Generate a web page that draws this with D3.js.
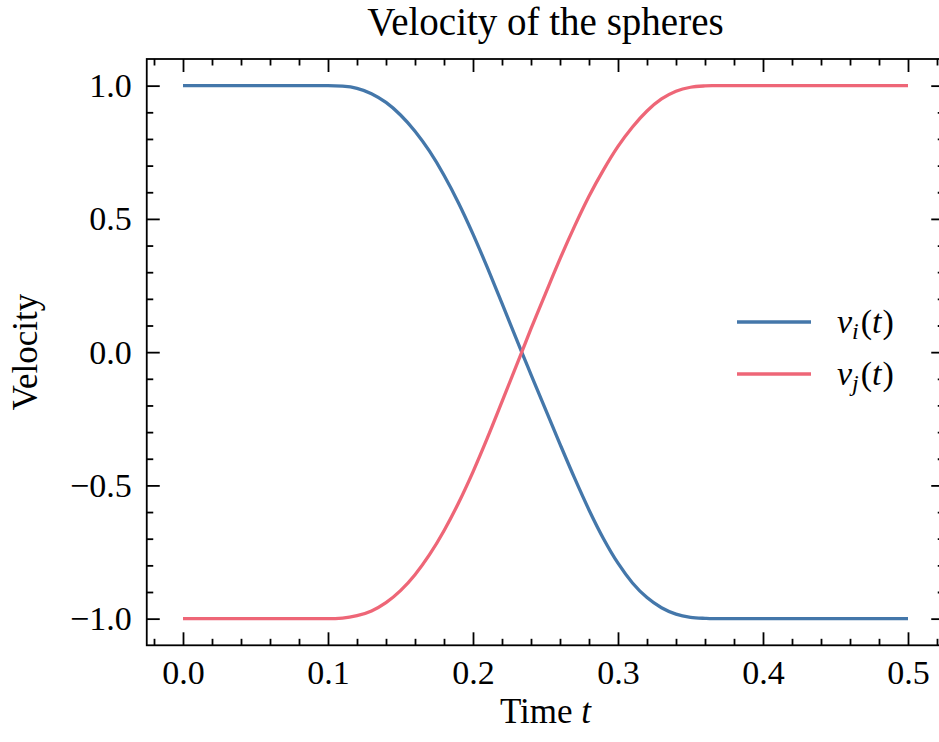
<!DOCTYPE html>
<html>
<head>
<meta charset="utf-8">
<script src="https://cdn.jsdelivr.net/npm/d3@7"></script>
<style>
  body { margin: 0; background: #fff; }
  text { font-family: "Liberation Serif", "Times New Roman", serif; fill: #000; }
</style>
</head>
<body>
<svg id="chart" width="939" height="742"></svg>
<script>
// time samples and the two velocity curves
const timeT = [0, 0.05, 0.10, 0.11, 0.12, 0.13, 0.14, 0.15, 0.16, 0.17, 0.18, 0.19, 0.20,
  0.21, 0.22, 0.2336, 0.24, 0.25, 0.26, 0.27, 0.28, 0.29, 0.30, 0.31, 0.32, 0.33, 0.34,
  0.35, 0.36, 0.365, 0.40, 0.45, 0.50];
const velocityI = [1.0, 1.0, 1.0, 0.998, 0.990, 0.970, 0.937, 0.890, 0.829, 0.754, 0.664,
  0.560, 0.443, 0.316, 0.183, 0.0, -0.084, -0.215, -0.345, -0.472, -0.592, -0.700, -0.792,
  -0.866, -0.921, -0.959, -0.983, -0.995, -0.999, -1.0, -1.0, -1.0, -1.0];
const velocityJ = [-1.0, -1.0, -1.0, -0.998, -0.989, -0.971, -0.940, -0.895, -0.835, -0.760,
  -0.670, -0.566, -0.449, -0.321, -0.186, 0.0, 0.088, 0.220, 0.350, 0.472, 0.585, 0.684,
  0.772, 0.845, 0.905, 0.950, 0.979, 0.994, 0.999, 1.0, 1.0, 1.0, 1.0];

const xMajorTicks = [0, 0.1, 0.2, 0.3, 0.4, 0.5];
const xMinorTicks = [-0.02, 0.02, 0.04, 0.06, 0.08, 0.12, 0.14, 0.16, 0.18, 0.22, 0.24,
  0.26, 0.28, 0.32, 0.34, 0.36, 0.38, 0.42, 0.44, 0.46, 0.48, 0.52];
const yMajorTicks = [-1.0, -0.5, 0.0, 0.5, 1.0];
const yMinorTicks = [-0.9, -0.8, -0.7, -0.6, -0.4, -0.3, -0.2, -0.1,
  0.1, 0.2, 0.3, 0.4, 0.6, 0.7, 0.8, 0.9];

const titleText = "Velocity of the spheres";
const yLabelText = "Velocity";
const seriesSubscripts = ["i", "j"];
const seriesColors = ["#4477AA", "#EE6677"];

const svg = d3.select("#chart");

const x = d3.scaleLinear().domain([-0.025, 0.525]).range([146.75, 944.25]);
const y = d3.scaleLinear().domain([-1.1, 1.1]).range([645.3, 59]);
const [x0, x1] = x.range();
const [y0, y1] = y.range();
const cx = (x0 + x1) / 2;
const cy = (y0 + y1) / 2;

const majorLen = 13;
const minorLen = 6.5;
const fmt = d3.format(".1f");

// curves
const series = [velocityI, velocityJ];
series.forEach((vals, k) => {
  const line = d3.line()
    .x((d, i) => x(timeT[i]))
    .y(d => y(d))
    .curve(d3.curveMonotoneX);
  svg.append("path")
    .datum(vals)
    .attr("fill", "none")
    .attr("stroke", seriesColors[k])
    .attr("stroke-width", 3.3)
    .attr("d", line);
});

// axes, ticks pointing inward on all four sides
function addAxis(axisFn, scale, ticks, len, transform, labels) {
  const a = axisFn(scale)
    .tickValues(ticks)
    .tickSizeInner(-len)
    .tickSizeOuter(0)
    .tickPadding(15)
    .tickFormat(labels ? fmt : "");
  const g = svg.append("g").attr("transform", transform).call(a);
  g.select(".domain").remove();
  g.selectAll(".tick line").attr("stroke", "#000").attr("stroke-width", 1.8);
  g.selectAll("text").style("font-size", "34px").attr("fill", "#000")
    .style("font-family", '"Liberation Serif", serif');
  return g;
}

addAxis(d3.axisBottom, x, xMajorTicks, majorLen, `translate(0,${y0})`, true);
addAxis(d3.axisBottom, x, xMinorTicks, minorLen, `translate(0,${y0})`, false);
addAxis(d3.axisTop, x, xMajorTicks, majorLen, `translate(0,${y1})`, false);
addAxis(d3.axisTop, x, xMinorTicks, minorLen, `translate(0,${y1})`, false);
addAxis(d3.axisLeft, y, yMajorTicks, majorLen, `translate(${x0},0)`, true);
addAxis(d3.axisLeft, y, yMinorTicks, minorLen, `translate(${x0},0)`, false);
addAxis(d3.axisRight, y, yMajorTicks, majorLen, `translate(${x1},0)`, false);
addAxis(d3.axisRight, y, yMinorTicks, minorLen, `translate(${x1},0)`, false);

// frame
svg.append("rect")
  .attr("x", x0).attr("y", y1)
  .attr("width", x1 - x0).attr("height", y0 - y1)
  .attr("fill", "none")
  .attr("stroke", "#000")
  .attr("stroke-width", 1.8);

// title
svg.append("text")
  .attr("x", cx).attr("y", 35)
  .attr("text-anchor", "middle")
  .style("font-size", "39px")
  .text(titleText);

// x label
const xl = svg.append("text")
  .attr("x", cx).attr("y", 723)
  .attr("text-anchor", "middle")
  .style("font-size", "35px");
xl.append("tspan").text("Time ");
xl.append("tspan").style("font-style", "italic").text("t");

// y label
svg.append("text")
  .attr("transform", `translate(37,${cy}) rotate(-90)`)
  .attr("text-anchor", "middle")
  .style("font-size", "35px")
  .text(yLabelText);

// legend
const legend = svg.append("g").attr("transform", "translate(737,322)");
seriesSubscripts.forEach((s, k) => {
  const g = legend.append("g").attr("transform", `translate(0,${k * 52})`);
  g.append("line")
    .attr("x1", 0).attr("x2", 74)
    .attr("y1", 0).attr("y2", 0)
    .attr("stroke", seriesColors[k])
    .attr("stroke-width", 3.3);
  const t = g.append("text")
    .attr("x", 100).attr("y", 11)
    .style("font-size", "34px");
  t.append("tspan").style("font-style", "italic").text("v");
  t.append("tspan").style("font-style", "italic").style("font-size", "24px")
    .attr("dy", 6).text(s);
  t.append("tspan").attr("dy", -6).attr("dx", 2).text("(");
  t.append("tspan").style("font-style", "italic").text("t");
  t.append("tspan").attr("dx", 1).text(")");
});
</script>
</body>
</html>
